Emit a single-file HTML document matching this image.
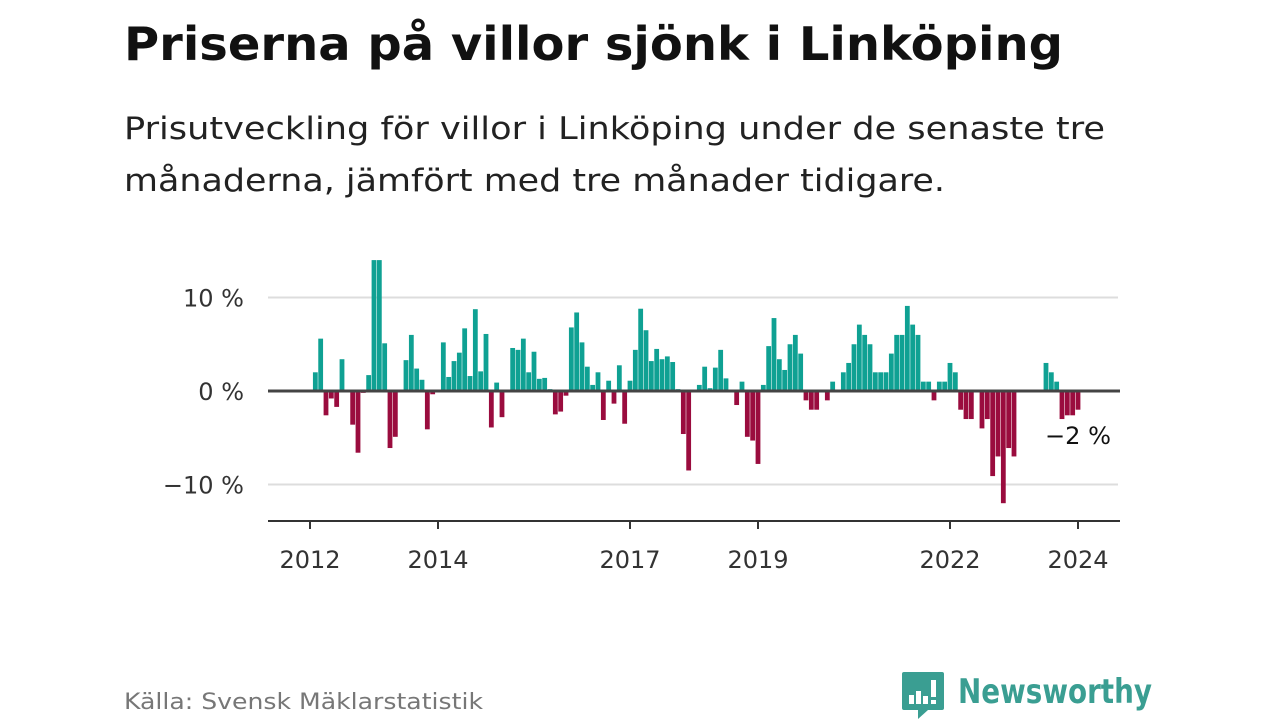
<!DOCTYPE html>
<html><head><meta charset="utf-8">
<style>
body{margin:0;background:#fff;width:1280px;height:720px;overflow:hidden;font-family:"DejaVu Sans","Liberation Sans",sans-serif;}
svg{position:absolute;left:0;top:0}
</style></head>
<body>
<svg width="1280" height="720">
<text x="124" y="60" font-size="46" font-weight="bold" fill="#111" textLength="939" lengthAdjust="spacingAndGlyphs">Priserna på villor sjönk i Linköping</text>
<text x="124" y="139" font-size="31" fill="#222" textLength="981" lengthAdjust="spacingAndGlyphs">Prisutveckling för villor i Linköping under de senaste tre</text>
<text x="124" y="191" font-size="31" fill="#222" textLength="821" lengthAdjust="spacingAndGlyphs">månaderna, jämfört med tre månader tidigare.</text>
<g id="grid"></g>
<g id="bars"></g>
<g id="axes"></g>
<text x="1045" y="444" font-size="24" fill="#111" textLength="66" lengthAdjust="spacingAndGlyphs">−2 %</text>
<text x="124" y="709" font-size="22" fill="#777" textLength="359" lengthAdjust="spacingAndGlyphs">Källa: Svensk Mäklarstatistik</text>
<g>
<path d="M904 672 h38 a2 2 0 0 1 2 2 v34 a2 2 0 0 1 -2 2 h-14 l-10 9 v-9 h-14 a2 2 0 0 1 -2 -2 v-34 a2 2 0 0 1 2 -2z" fill="#3a9e92"/>
<rect x="909" y="695" width="5" height="9" fill="#fff"/>
<rect x="916" y="691" width="5" height="13" fill="#fff"/>
<rect x="923" y="696" width="5" height="8" fill="#fff"/>
<rect x="931" y="680" width="5" height="17" fill="#fff"/>
<rect x="931" y="700" width="5" height="4" fill="#fff"/>
<text x="958" y="703" font-size="34" font-weight="bold" fill="#3a9e92" textLength="194" lengthAdjust="spacingAndGlyphs">Newsworthy</text>
</g>
</svg>
<script>
const values = [0,2.0,5.6,-2.6,-0.8,-1.7,3.4,0,-3.6,-6.6,-0.2,1.7,14,14,5.1,-6.1,-4.9,0,3.3,6.0,2.4,1.2,-4.1,-0.35,0,5.2,1.5,3.2,4.1,6.7,1.6,8.75,2.1,6.1,-3.9,0.9,-2.8,0,4.6,4.4,5.6,2.0,4.2,1.3,1.4,0.2,-2.5,-2.2,-0.5,6.8,8.4,5.2,2.6,0.65,2.0,-3.1,1.1,-1.35,2.75,-3.5,1.1,4.4,8.8,6.5,3.2,4.5,3.4,3.7,3.1,0.2,-4.6,-8.5,0,0.65,2.6,0.3,2.5,4.4,1.35,0,-1.5,1.0,-4.9,-5.3,-7.8,0.65,4.8,7.8,3.4,2.25,5.0,6.0,4.0,-1.0,-2.0,-2.0,0,-1.0,1.0,0,2.0,3.0,5.0,7.1,6.0,5.0,2.0,2.0,2.0,4.0,6.0,6.0,9.1,7.1,6.0,1.0,1.0,-1.0,1.0,1.0,3.0,2.0,-2.0,-3.0,-3.0,0,-4.0,-3.0,-9.1,-7.0,-12.0,-6.1,-7.0,0,0,0,0,0,3.0,2.0,1.0,-3.0,-2.6,-2.6,-2.0];
const yTicks = [10,0,-10];
const yTickLabels = ["10 %","0 %","−10 %"];
const xTickMonths = [0,24,60,84,120,144];
const xTickLabels = ["2012","2014","2017","2019","2022","2024"];
const NS='http://www.w3.org/2000/svg';
const x = i => 310 + i*5.3333;
const y = v => 391 - v*9.35;
function mk(tag, attrs, parent){const e=document.createElementNS(NS,tag);for(const k in attrs)e.setAttribute(k,attrs[k]);document.getElementById(parent).appendChild(e);return e;}
yTicks.forEach((t,k)=>{
  if(t!==0){const l=mk('line',{x1:268,x2:1118,y1:y(t),y2:y(t),stroke:'#ddd','stroke-width':2},'grid');
  
  }
  const tx=mk('text',{x:244,y:y(t)+9,'font-size':24,fill:'#333','text-anchor':'end'},'grid');
  tx.textContent=yTickLabels[k];
  
  
});
values.forEach((v,i)=>{
  if(v===0)return;
  const top=Math.min(y(v),y(0)), h=Math.abs(y(v)-y(0));
  const r=mk('rect',{x:x(i)-2.4,y:top,width:4.8,height:h,fill:v>0?'#0fa193':'#9a0c3e'},'bars');
  
  
});
const z=mk('line',{x1:268,x2:1120,y1:y(0),y2:y(0),stroke:'#444','stroke-width':3},'axes');


const ax=mk('line',{x1:268,x2:1120,y1:521,y2:521,stroke:'#333','stroke-width':2},'axes');


xTickMonths.forEach((m,k)=>{
  const t=mk('line',{x1:x(m),x2:x(m),y1:521,y2:529,stroke:'#333','stroke-width':2},'axes');
  
  
  const tx=mk('text',{x:x(m),y:568,'font-size':24,fill:'#333','text-anchor':'middle'},'axes');
  tx.textContent=xTickLabels[k];
  
  
});
</script>
</body></html>
